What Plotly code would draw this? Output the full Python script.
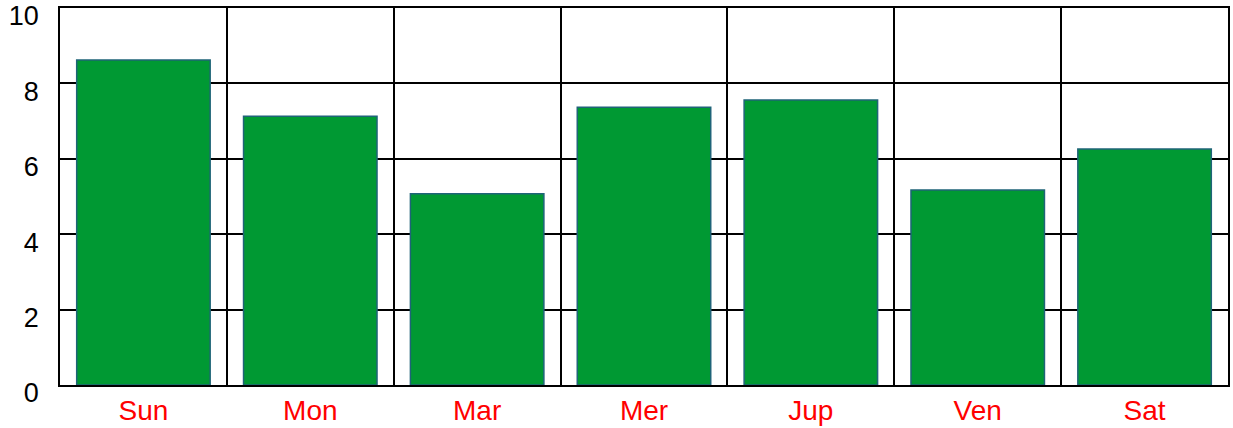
import plotly.graph_objects as go

categories = ["Sun", "Mon", "Mar", "Mer", "Jup", "Ven", "Sat"]
values = [8.62, 7.13, 5.07, 7.37, 7.56, 5.17, 6.26]
y_ticks = [0, 2, 4, 6, 8, 10]

fig = go.Figure(go.Bar(
    x=categories, y=values,
    marker=dict(color="#009933", line=dict(color="#1f6478", width=1.5)),
))
fig.update_layout(
    width=1233, height=428,
    margin=dict(l=60, r=5, t=8, b=43),
    paper_bgcolor="white", plot_bgcolor="white",
    bargap=0.2, showlegend=False,
    font=dict(family="Liberation Sans, Arial, sans-serif"),
)
fig.update_xaxes(
    type="category", tickson="boundaries", showgrid=True, gridcolor="black", gridwidth=1.5,
    showline=True, linecolor="black", linewidth=1.5, mirror=True, automargin=False,
    ticks="", tickfont=dict(color="red", size=28), ticklabelstandoff=0,
)
fig.update_yaxes(
    range=[0, 10.0005], tickvals=y_ticks, showgrid=True, gridcolor="black", gridwidth=1.5,
    showline=True, linecolor="black", linewidth=1.5, mirror=True, zeroline=False, automargin=False,
    ticks="", tickfont=dict(color="black", size=27), ticklabelstandoff=14, ticklabelshift=8,
    ticklabeloverflow="allow",
)
fig.write_html("out.html", config={"displayModeBar": False},
               post_script="document.body.style.margin='0';")
